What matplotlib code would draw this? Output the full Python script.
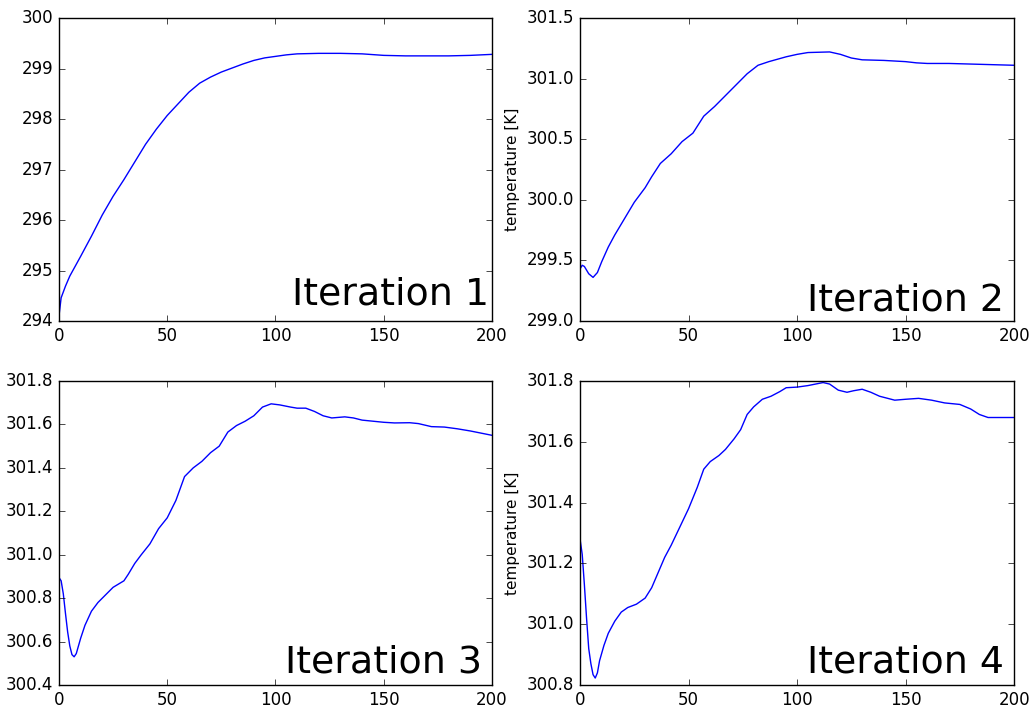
import matplotlib
matplotlib.use("Agg")
import matplotlib.pyplot as plt

# iteration 1
x1 = [0, 1, 3, 5, 10, 15, 20, 25, 30, 35, 40, 45, 50, 55, 60, 65, 70, 75, 80, 85,
      90, 95, 100, 105, 110, 120, 130, 140, 150, 160, 170, 180, 190, 200]
t1 = [294.1, 294.46, 294.69, 294.89, 295.28, 295.68, 296.1, 296.47, 296.8, 297.15,
      297.5, 297.8, 298.07, 298.3, 298.53, 298.71, 298.83, 298.93, 299.01, 299.09,
      299.16, 299.21, 299.24, 299.27, 299.29, 299.3, 299.3, 299.29, 299.26, 299.25,
      299.25, 299.25, 299.26, 299.28]

# iteration 2
x2 = [0, 1, 2, 4, 6, 8, 10, 13, 16, 20, 25, 30, 33, 37, 42, 47, 52, 57, 62, 67,
      72, 77, 82, 87, 95, 100, 105, 115, 120, 125, 130, 140, 150, 155, 160, 170,
      180, 190, 200]
t2 = [299.43, 299.46, 299.45, 299.39, 299.36, 299.40, 299.49, 299.61, 299.71,
      299.83, 299.98, 300.1, 300.19, 300.30, 300.38, 300.48, 300.55, 300.69,
      300.77, 300.86, 300.95, 301.04, 301.11, 301.14, 301.18, 301.2, 301.215,
      301.22, 301.2, 301.17, 301.155, 301.15, 301.14, 301.13, 301.125, 301.125,
      301.12, 301.115, 301.11]

# iteration 3
x3 = [0, 1, 2, 3, 4, 5, 6, 7, 8, 10, 12, 15, 18, 21, 25, 30, 32, 35, 38, 42, 46,
      50, 54, 58, 62, 66, 70, 74, 78, 82, 86, 90, 94, 98, 102, 107, 110, 114, 118,
      122, 126, 132, 136, 140, 150, 155, 162, 166, 172, 178, 184, 190, 195, 200]
t3 = [300.895, 300.88, 300.82, 300.73, 300.645, 300.58, 300.54, 300.53, 300.545,
      300.615, 300.675, 300.74, 300.78, 300.81, 300.85, 300.88, 300.91, 300.96,
      301.0, 301.05, 301.12, 301.17, 301.25, 301.36, 301.40, 301.43, 301.47,
      301.50, 301.565, 301.595, 301.615, 301.64, 301.68, 301.695, 301.69, 301.68,
      301.675, 301.675, 301.66, 301.64, 301.63, 301.635, 301.63, 301.62, 301.61,
      301.607, 301.608, 301.604, 301.59, 301.588, 301.58, 301.57, 301.56, 301.55]

# iteration 4
x4 = [0, 1, 2, 3, 4, 5, 6, 7, 8, 9, 11, 13, 16, 19, 22, 26, 30, 33, 36, 39, 42,
      46, 50, 54, 57, 60, 64, 67, 71, 74, 77, 80, 84, 88, 92, 95, 100, 105, 112,
      115, 119, 123, 126, 130, 134, 138, 145, 150, 156, 162, 168, 175, 180, 184,
      188, 195, 200]
t4 = [301.28, 301.23, 301.13, 301.02, 300.92, 300.87, 300.834, 300.823, 300.84,
      300.88, 300.93, 300.97, 301.01, 301.04, 301.055, 301.066, 301.086, 301.12,
      301.17, 301.22, 301.26, 301.32, 301.38, 301.45, 301.51, 301.535, 301.555,
      301.575, 301.61, 301.64, 301.69, 301.715, 301.74, 301.75, 301.765, 301.778,
      301.78, 301.785, 301.795, 301.79, 301.77, 301.763, 301.768, 301.773,
      301.763, 301.75, 301.737, 301.74, 301.743, 301.737, 301.728, 301.723,
      301.708, 301.69, 301.68, 301.68, 301.68]

labels = ["Iteration 1", "Iteration 2", "Iteration 3", "Iteration 4"]
ylims = [(294, 300), (299.0, 301.5), (300.4, 301.8), (300.8, 301.8)]

plt.style.use("classic")
fig = plt.figure(figsize=(10.31, 7.06), dpi=100, facecolor="white")

# [left, bottom, width, height] in figure fractions
boxes = [[0.0572, 0.5453, 0.420, 0.4292],
         [0.5626, 0.5453, 0.421, 0.4292],
         [0.0572, 0.0297, 0.420, 0.4306],
         [0.5626, 0.0297, 0.421, 0.4306]]
text_pos = [(0.993, 0.053), (0.976, 0.036), (0.976, 0.04), (0.977, 0.04)]

data = [(x1, t1), (x2, t2), (x3, t3), (x4, t4)]
for i, (x, t) in enumerate(data):
    ax = fig.add_axes(boxes[i])
    ax.plot(x, t, color="b", lw=1)
    ax.set_xlim(0, 200)
    ax.set_ylim(*ylims[i])
    ax.set_xticks([0, 50, 100, 150, 200])
    ax.ticklabel_format(useOffset=False, axis="y")
    ax.text(text_pos[i][0], text_pos[i][1], labels[i], transform=ax.transAxes,
            ha="right", va="baseline", fontsize=27.3)
    if i % 2 == 1:
        ax.set_ylabel("temperature [K]", fontsize=11)

fig.savefig("out.png", dpi=100, facecolor="white")
